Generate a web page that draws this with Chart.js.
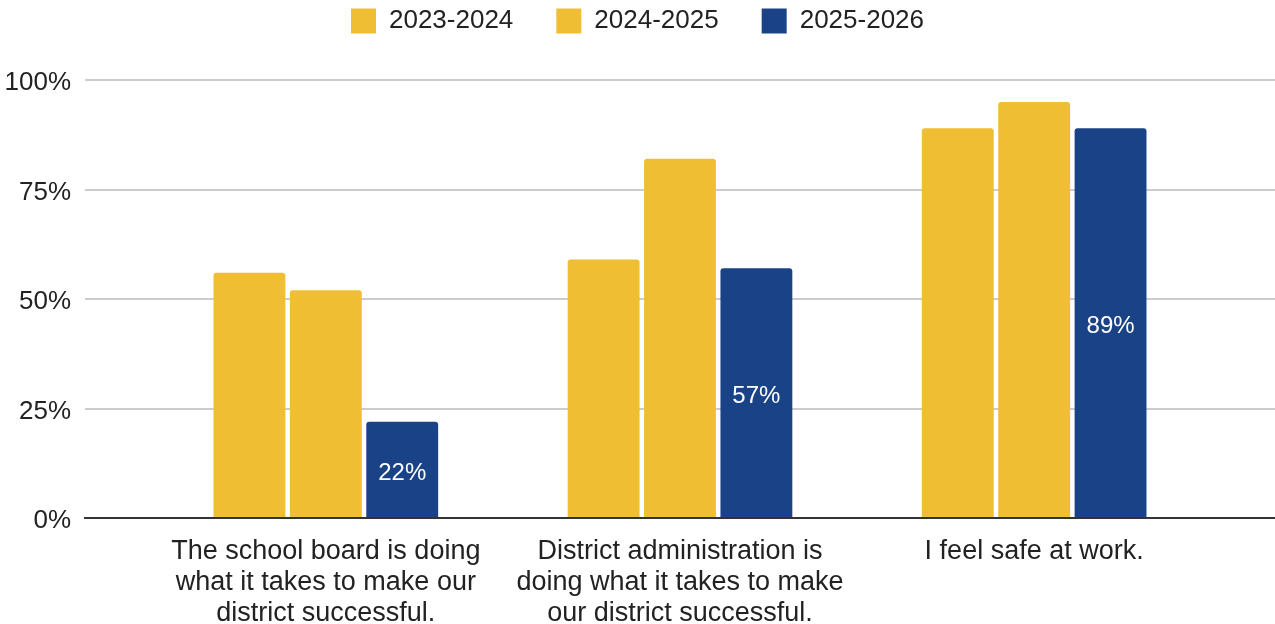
<!DOCTYPE html>
<html>
<head>
<meta charset="utf-8">
<script src="https://cdn.jsdelivr.net/npm/chart.js@4.4.1/dist/chart.umd.min.js"></script>
<style>
html,body{margin:0;padding:0;background:#fff}
#wrap{width:1275px;height:624px;position:relative}
</style>
</head>
<body>
<div id="wrap"><canvas id="c"></canvas></div>
<script>
// categories (x axis), one entry per question, split into the lines shown
const categories = [
    ['The school board is doing', 'what it takes to make our', 'district successful.'],
    ['District administration is', 'doing what it takes to make', 'our district successful.'],
    ['I feel safe at work.']
];
const seriesNames = ['2023-2024', '2024-2025', '2025-2026'];
const vals2324 = [56, 59, 89];
const vals2425 = [52, 82, 95];
const vals2526 = [22, 57, 89];
const yTicks = [0, 25, 50, 75, 100];

const FONT = '"Liberation Sans", Arial, sans-serif';
const YELLOW = '#efbe33', BLUE = '#1a4287';

const toPts = arr => arr.map((v, i) => ({ x: i, y: v }));

// white % labels in the middle of the last series' bars
const barLabels = {
    id: 'barLabels',
    afterDatasetsDraw(chart) {
        const ctx = chart.ctx, meta = chart.getDatasetMeta(2);
        ctx.save();
        ctx.font = '24px ' + FONT; ctx.fillStyle = '#fff';
        ctx.textAlign = 'center'; ctx.textBaseline = 'middle';
        meta.data.forEach((b, i) => ctx.fillText(vals2526[i] + '%', b.x, (b.y + b.base) / 2 + 4));
        ctx.restore();
    }
};
// fixed legend height so the plot starts where the reference does
const legendSize = {
    id: 'legendSize',
    afterInit(chart) {
        const fit = chart.legend.fit;
        chart.legend.fit = function () { fit.call(this); this.height = 115; };
    }
};

new Chart(document.getElementById('c'), {
    type: 'bar',
    data: {
        datasets: [
            { label: seriesNames[0], data: toPts(vals2324), backgroundColor: YELLOW },
            { label: seriesNames[1], data: toPts(vals2425), backgroundColor: YELLOW },
            { label: seriesNames[2], data: toPts(vals2526), backgroundColor: BLUE }
        ]
    },
    options: {
        responsive: true, maintainAspectRatio: false, animation: false,
        layout: { padding: { top: -35, left: 0, right: 0, bottom: 0 } },
        datasets: { bar: { categoryPercentage: 0.647, barPercentage: 0.941, borderRadius: 3, borderSkipped: 'bottom' } },
        plugins: {
            legend: {
                position: 'top', align: 'center',
                labels: { boxWidth: 25, boxHeight: 25, padding: 43, color: '#222', font: { family: FONT, size: 26, lineHeight: 1.1 } }
            },
            tooltip: { enabled: false }
        },
        scales: {
            x: {
                type: 'linear', min: -0.68, max: 2.68, offset: false,
                afterBuildTicks: s => { s.ticks = categories.map((c, i) => ({ value: i })); },
                afterFit: s => { s.height = 106; },
                grid: { display: false },
                border: { color: '#333', width: 2 },
                ticks: { color: '#222', padding: 10, maxRotation: 0, autoSkip: false,
                    font: { family: FONT, size: 27, lineHeight: 1.15 },
                    callback: v => categories[v] }
            },
            y: {
                min: 0, max: 100,
                afterBuildTicks: s => { s.ticks = yTicks.map(v => ({ value: v })); },
                afterFit: s => { s.width = 85; },
                grid: { color: '#cccccc', lineWidth: 2, drawTicks: false },
                border: { display: false },
                ticks: { color: '#222', padding: 14, labelOffset: 3, font: { family: FONT, size: 26 }, callback: v => v + '%' }
            }
        }
    },
    plugins: [barLabels, legendSize]
});
</script>
</body>
</html>
